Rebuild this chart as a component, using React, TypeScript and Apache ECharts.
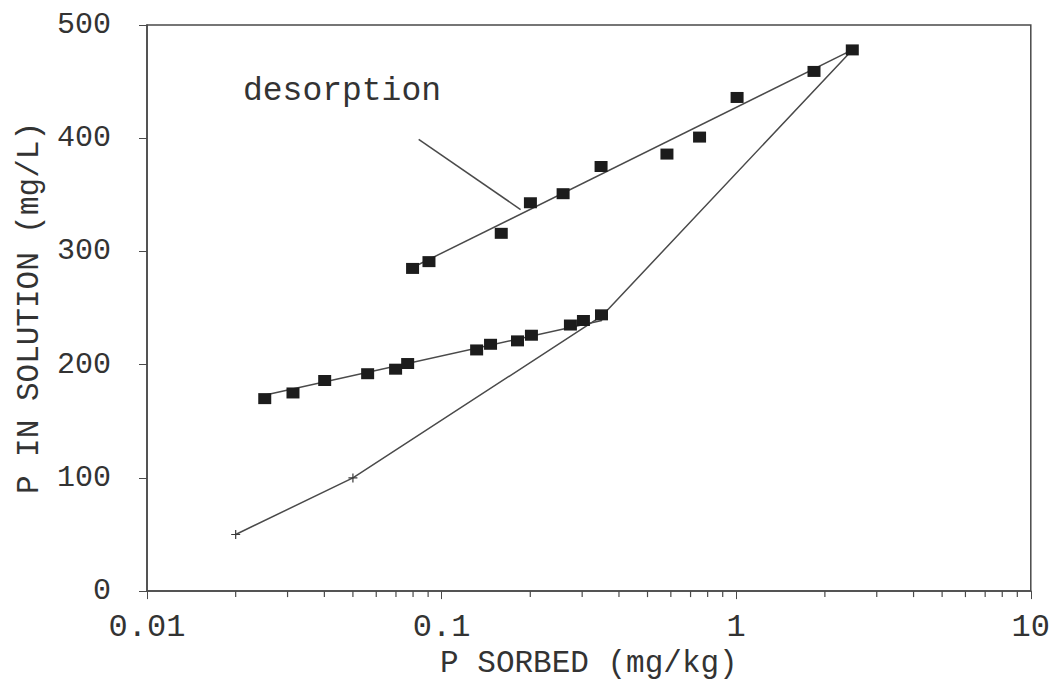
import React, { useEffect, useRef } from "react";
import * as echarts from "echarts";

// Adsorption isotherm points
const adsorbX = [0.0251, 0.0313, 0.0401, 0.0561, 0.0698, 0.0767, 0.1315, 0.1466, 0.181, 0.2018, 0.2737, 0.303, 0.349];
const adsorbY = [170, 175, 186, 192, 196, 201, 213, 218, 221, 226, 235, 239, 244];

// Desorption points
const desorbX = [0.0797, 0.0906, 0.1594, 0.2002, 0.2585, 0.3478, 0.582, 0.751, 1.007, 1.837, 2.478];
const desorbY = [285, 291, 316, 343, 351, 375, 386, 401, 436, 459, 478];

// Fitted lines (end points)
const adsorbFitX = [0.025, 0.35];
const adsorbFitY = [173, 239];
const desorbFitX = [0.08, 2.478];
const desorbFitY = [286, 478];

// Sorption curve with cross markers
const sorbX = [0.02, 0.05, 0.35, 2.478];
const sorbY = [50, 100, 243, 478];

// Axis ticks
const yTicks = [0, 100, 200, 300, 400, 500];
const xDecades = [0.01, 0.1, 1, 10];
const minorMultipliers = [2, 3, 4, 5, 6, 7, 8, 9];

const FONT = "'Liberation Mono', 'DejaVu Sans Mono', monospace";
const INK = "#333";
const LINE = "#4a4a4a";

const zip = (xs: number[], ys: number[]) => xs.map((x, i) => [x, ys[i]]);

export default function App() {
  const ref = useRef<HTMLDivElement>(null);

  useEffect(() => {
    if (!ref.current) return;
    const chart = echarts.init(ref.current, null, { renderer: "svg" });

    const minorTicks: number[][] = [];
    xDecades.slice(0, -1).forEach((d) =>
      minorMultipliers.forEach((m) => minorTicks.push([+(d * m).toPrecision(3), 0]))
    );

    chart.setOption({
      animation: false,
      backgroundColor: "#fff",
      grid: {
        left: 147,
        right: 20,
        top: 25,
        bottom: 90,
        show: true,
        borderColor: LINE,
        borderWidth: 1.5,
      },
      xAxis: {
        type: "log",
        logBase: 10,
        min: xDecades[0],
        max: xDecades[xDecades.length - 1],
        name: "P SORBED (mg/kg)",
        nameLocation: "middle",
        nameGap: 54,
        nameTextStyle: { fontFamily: FONT, fontSize: 31, color: INK },
        axisLine: { lineStyle: { color: LINE, width: 1.5 } },
        axisTick: { show: true, inside: false, length: 8, lineStyle: { color: LINE } },
        splitLine: { show: false },
        axisLabel: {
          fontFamily: FONT,
          fontSize: 32,
          color: INK,
          margin: 20,
          formatter: (v: number) => String(Number(v.toPrecision(3))),
        },
      },
      yAxis: {
        type: "value",
        min: 0,
        max: yTicks[yTicks.length - 1],
        interval: 100,
        name: "P IN SOLUTION (mg/L)",
        nameLocation: "middle",
        nameGap: 102,
        nameTextStyle: { fontFamily: FONT, fontSize: 31, color: INK },
        axisLine: { show: true, lineStyle: { color: LINE, width: 1.5 } },
        axisTick: { show: true, inside: false, length: 8, lineStyle: { color: LINE } },
        splitLine: { show: false },
        axisLabel: { fontFamily: FONT, fontSize: 30, color: INK, margin: 36 },
      },
      graphic: [
        {
          type: "text",
          left: 243,
          top: 75,
          style: {
            text: "desorption",
            font: `33px ${FONT}`,
            fill: INK,
          },
        },
      ],
      series: [
        {
          name: "minor ticks",
          type: "scatter",
          data: minorTicks,
          symbol: "rect",
          symbolSize: [1.2, 6],
          symbolOffset: [0, 3],
          itemStyle: { color: LINE, opacity: 1 },
          clip: false,
          silent: true,
          z: 1,
        },
        {
          name: "sorption",
          type: "line",
          data: zip(sorbX, sorbY),
          symbol: "path://M5 0 L5 10 M0 5 L10 5",
          symbolSize: 9,
          showSymbol: true,
          itemStyle: { color: "none", borderColor: "#3a3a3a", borderWidth: 1.2 },
          lineStyle: { color: LINE, width: 1.5 },
          z: 2,
        },
        {
          name: "adsorption fit",
          type: "line",
          data: zip(adsorbFitX, adsorbFitY),
          symbol: "none",
          lineStyle: { color: LINE, width: 1.5 },
          z: 2,
        },
        {
          name: "desorption fit",
          type: "line",
          data: zip(desorbFitX, desorbFitY),
          symbol: "none",
          lineStyle: { color: LINE, width: 1.5 },
          markLine: {
            silent: true,
            symbol: "none",
            label: { show: false },
            lineStyle: { color: LINE, width: 1.5, type: "solid" },
            data: [
              [
                { coord: [0.0836, 399] },
                { coord: [0.1854, 337] },
              ],
            ],
          },
          z: 2,
        },
        {
          name: "adsorption",
          type: "scatter",
          data: zip(adsorbX, adsorbY),
          symbol: "rect",
          symbolSize: [13, 11],
          itemStyle: { color: "#1c1c1c", opacity: 1 },
          z: 3,
        },
        {
          name: "desorption",
          type: "scatter",
          data: zip(desorbX, desorbY),
          symbol: "rect",
          symbolSize: [13, 11],
          itemStyle: { color: "#1c1c1c", opacity: 1 },
          z: 3,
        },
      ],
    });

    return () => chart.dispose();
  }, []);

  return (
    <div
      ref={ref}
      style={{ position: "fixed", left: 0, top: 0, width: 1053, height: 684, background: "#fff" }}
    />
  );
}
